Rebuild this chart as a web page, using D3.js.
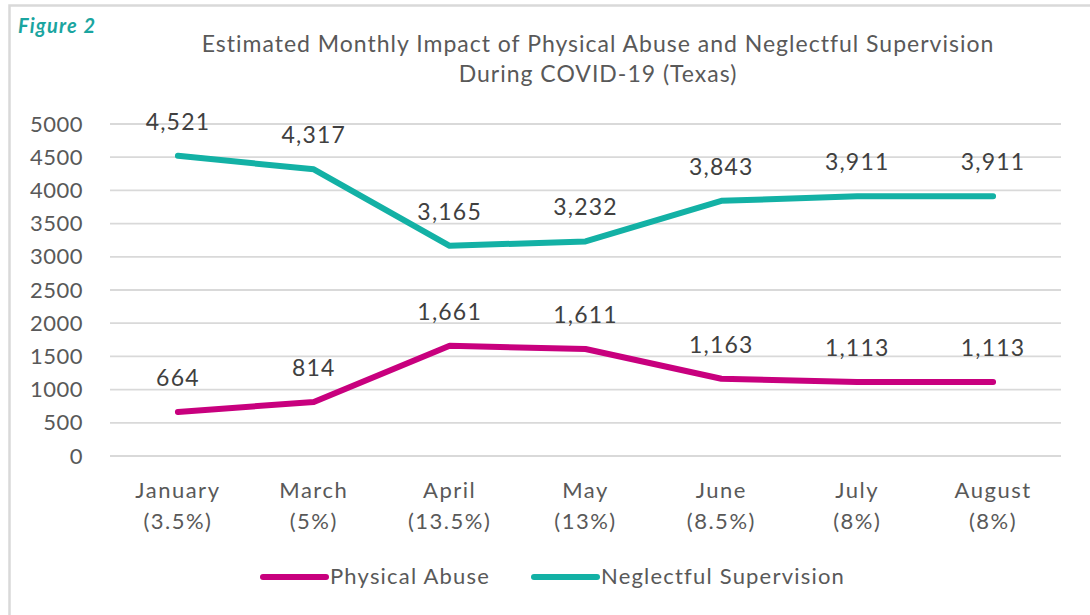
<!DOCTYPE html>
<html lang="en">
<head>
    <meta charset="UTF-8">
    <title>Figure 2</title>
    <script src="https://cdn.jsdelivr.net/npm/d3@7"></script>
    <style>
        body { margin: 0; background: #fff; }
        text { font-family: Lato, "Open Sans", sans-serif; }
    </style>
</head>
<body>
    <script>
        // data
        const months = ['January', 'March', 'April', 'May', 'June', 'July', 'August'];
        const pcts = ['(3.5%)', '(5%)', '(13.5%)', '(13%)', '(8.5%)', '(8%)', '(8%)'];
        const physical = [664, 814, 1661, 1611, 1163, 1113, 1113];
        const neglect = [4521, 4317, 3165, 3232, 3843, 3911, 3911];
        const yTicks = [0, 500, 1000, 1500, 2000, 2500, 3000, 3500, 4000, 4500, 5000];

        const W = 1090, H = 615;
        const svg = d3.select('body').append('svg')
            .attr('width', W).attr('height', H);

        // outer frame (right and bottom edges fall outside the picture)
        svg.append('rect')
            .attr('x', 9.5).attr('y', 5.5)
            .attr('width', W + 20).attr('height', H + 20)
            .attr('fill', '#fff').attr('stroke', '#d9d9d9').attr('stroke-width', 2.5);

        svg.append('text')
            .attr('x', 18).attr('y', 33)
            .attr('font-size', 20).attr('font-weight', 'bold').attr('font-style', 'italic')
            .attr('letter-spacing', 1.2)
            .attr('fill', '#1aa5a0')
            .text('Figure 2');

        const title = svg.append('text')
            .attr('text-anchor', 'middle').attr('font-size', 23).attr('fill', '#595959')
            .attr('letter-spacing', 1);
        title.append('tspan').attr('x', 598).attr('y', 52)
            .text('Estimated Monthly Impact of Physical Abuse and Neglectful Supervision');
        title.append('tspan').attr('x', 598).attr('y', 82)
            .text('During COVID-19 (Texas)');

        const x = d3.scaleBand().domain(months).range([110, 1061]);
        const y = d3.scaleLinear().domain([0, 5000]).range([456, 124]);

        // gridlines
        svg.append('g').selectAll('line').data(yTicks).join('line')
            .attr('x1', 110).attr('x2', 1061)
            .attr('y1', d => y(d)).attr('y2', d => y(d))
            .attr('stroke', '#d9d9d9').attr('stroke-width', 1.8);

        // y axis labels
        const yAxis = svg.append('g')
            .attr('transform', 'translate(83,0)')
            .call(d3.axisLeft(y).tickValues(yTicks).tickSize(0).tickPadding(0).tickFormat(d3.format('d')));
        yAxis.select('.domain').remove();
        yAxis.selectAll('text')
            .attr('font-size', 22).attr('fill', '#595959')
            .attr('letter-spacing', 0.5)
            .attr('font-family', 'Lato, sans-serif');

        // x axis labels
        const xl = svg.append('g').selectAll('text').data(months).join('text')
            .attr('text-anchor', 'middle').attr('font-size', 22).attr('fill', '#595959')
            .attr('letter-spacing', 1.5);
        xl.append('tspan')
            .attr('x', d => x(d) + x.bandwidth() / 2).attr('y', 498)
            .text(d => d);
        xl.append('tspan')
            .attr('x', d => x(d) + x.bandwidth() / 2).attr('y', 529)
            .text((d, i) => pcts[i]);

        const line = d3.line()
            .x((d, i) => x(months[i]) + x.bandwidth() / 2)
            .y(d => y(d));

        const series = [
            { name: 'Physical Abuse', values: physical, color: '#c8007e' },
            { name: 'Neglectful Supervision', values: neglect, color: '#13b1a5' }
        ];

        const fmt = d3.format(',');
        series.forEach(s => {
            svg.append('path')
                .datum(s.values)
                .attr('d', line)
                .attr('fill', 'none')
                .attr('stroke', s.color)
                .attr('stroke-width', 6)
                .attr('stroke-linecap', 'round')
                .attr('stroke-linejoin', 'round');

            svg.append('g').selectAll('text').data(s.values).join('text')
                .attr('x', (d, i) => x(months[i]) + x.bandwidth() / 2)
                .attr('y', d => y(d) - 26)
                .attr('text-anchor', 'middle')
                .attr('font-size', 23).attr('fill', '#404040')
                .attr('letter-spacing', 1.2)
                .text(d => fmt(d));
        });

        // legend
        const legX = [263, 534];
        series.forEach((s, i) => {
            svg.append('line')
                .attr('x1', legX[i]).attr('x2', legX[i] + 63)
                .attr('y1', 577).attr('y2', 577)
                .attr('stroke', s.color).attr('stroke-width', 6)
                .attr('stroke-linecap', 'round');
            svg.append('text')
                .attr('x', legX[i] + 67).attr('y', 584)
                .attr('font-size', 22).attr('fill', '#595959')
                .attr('letter-spacing', 1.2)
                .text(s.name);
        });
    </script>
</body>
</html>
